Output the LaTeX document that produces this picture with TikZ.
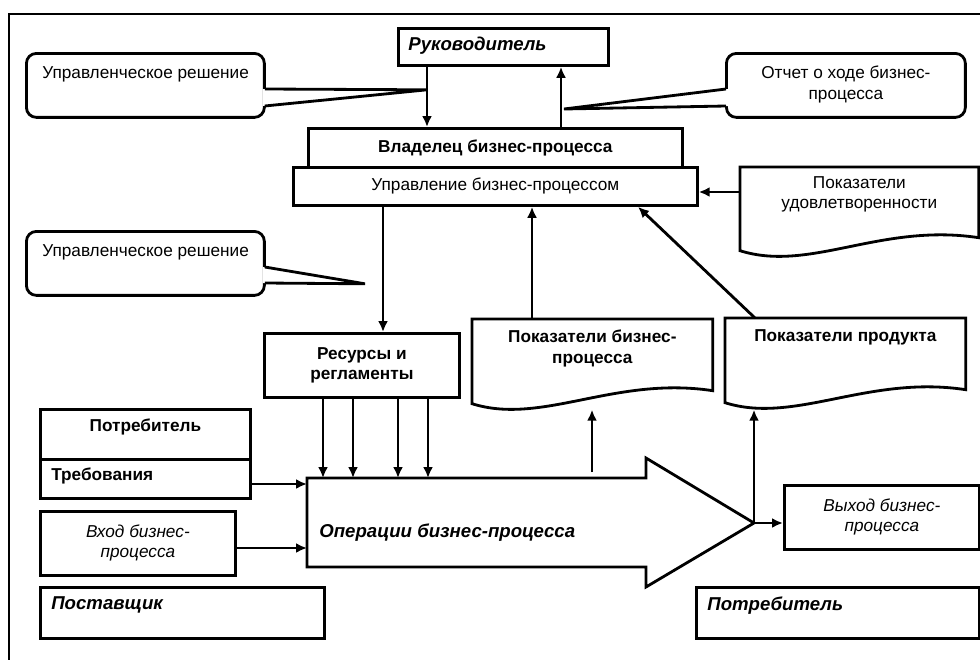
\documentclass[tikz,border=0pt]{standalone}
\usepackage{fontspec}
\setmainfont{Liberation Sans}
\usetikzlibrary{calc,positioning,arrows.meta}
\newcommand{\diagfont}{\fontsize{9.8}{11.4}\selectfont}
\newcommand{\titlefont}{\fontsize{10.6}{12}\selectfont\bfseries\itshape}

\begin{document}
\begin{tikzpicture}[x=0.02cm, y=-0.02cm,
		thickline/.style={line width=1.6pt},
		box/.style={thickline, draw, fill=white, inner sep=0pt, anchor=north west, align=center, font=\diagfont},
		bubble/.style={box, rounded corners=0.2cm},
		doc/.style={inner sep=0pt, anchor=north west},
		txt/.style={inner sep=0pt, align=center, font=\diagfont},
		arr/.style={thickline, -{Latex[length=2.2mm,width=2mm]}}
		]
	\useasboundingbox (0,0) rectangle (980,659);
	\clip (0,0) rectangle (980,659);
	\draw[thickline] (9,14) rectangle (1000,700);

	\node[box, minimum width=4.2cm, minimum height=0.74cm] (Boss) at (397,27) {};
	\node[txt, font=\titlefont, below right=0.19cm and 0.22cm of Boss.north west] (BossText) {Руководитель};
	\node[box, minimum width=7.48cm, minimum height=0.78cm, font=\diagfont\bfseries] (Owner) at (307,127) {Владелец бизнес-процесса};
	\node[box, minimum width=8.08cm, minimum height=0.76cm] (Mgmt) at (292,166) {Управление бизнес-процессом};

	\node[bubble, minimum width=4.76cm, minimum height=1.28cm] (DecA) at (25,52) {};
	\node[txt, below right=0.28cm and 0.34cm of DecA.north west] (DecAText) {Управленческое решение};
	\node[bubble, minimum width=4.78cm, minimum height=1.28cm] (Report) at (725,52) {};
	\node[txt, below=0.28cm of Report.north] (ReportText) {Отчет о ходе бизнес-\\процесса};
	\node[bubble, minimum width=4.76cm, minimum height=1.28cm] (DecB) at (25,230) {};
	\node[txt, below right=0.28cm and 0.34cm of DecB.north west] (DecBText) {Управленческое решение};

	\node[doc, minimum width=4.76cm, minimum height=1.66cm] (Sat) at (740,167) {};
	\draw[thickline] (Sat.south west) -- (Sat.north west) -- (Sat.north east) -- ($(Sat.south east)+(0,-13)$)
		.. controls +(-98,-15) and +(70,22) .. (Sat.south west) -- cycle;
	\node[txt, below=0.18cm of Sat.north] (SatText) {Показатели\\удовлетворенности};

	\node[box, minimum width=3.9cm, minimum height=1.28cm, font=\diagfont\bfseries] (Res) at (263,332) {Ресурсы и\\регламенты};

	\node[doc, minimum width=4.8cm, minimum height=1.68cm] (Kpi) at (472,319) {};
	\draw[thickline] (Kpi.south west) -- (Kpi.north west) -- (Kpi.north east) -- ($(Kpi.south east)+(0,-13)$)
		.. controls +(-98,-15) and +(70,22) .. (Kpi.south west) -- cycle;
	\node[txt, font=\diagfont\bfseries, below=0.22cm of Kpi.north] (KpiText) {Показатели бизнес-\\процесса};

	\node[doc, minimum width=4.8cm, minimum height=1.68cm] (Prod) at (725,318) {};
	\draw[thickline] (Prod.south west) -- (Prod.north west) -- (Prod.north east) -- ($(Prod.south east)+(0,-13)$)
		.. controls +(-98,-15) and +(70,22) .. (Prod.south west) -- cycle;
	\node[txt, font=\diagfont\bfseries, below=0.22cm of Prod.north] (ProdText) {Показатели продукта};

	\node[box, minimum width=4.2cm, minimum height=1cm] (Client) at (39,408) {};
	\node[txt, font=\diagfont\bfseries, below=0.22cm of Client.north] (ClientText) {Потребитель};
	\node[box, minimum width=4.2cm, minimum height=0.78cm] (Req) at (39,458) {};
	\node[txt, font=\diagfont\bfseries, below right=0.2cm and 0.24cm of Req.north west] (ReqText) {Требования};
	\node[box, minimum width=3.9cm, minimum height=1.28cm, font=\diagfont\itshape] (Inp) at (39,510) {Вход бизнес-\\процесса};
	\node[box, minimum width=5.68cm, minimum height=1.02cm] (Supplier) at (39,586) {};
	\node[txt, font=\titlefont, below right=0.21cm and 0.24cm of Supplier.north west] (SupplierText) {Поставщик};

	\node[box, minimum width=3.9cm, minimum height=1.28cm, font=\diagfont\itshape] (Outp) at (783,484) {Выход бизнес-\\процесса};
	\node[box, minimum width=5.66cm, minimum height=1.02cm] (ClientR) at (695,586) {};
	\node[txt, font=\titlefont, below right=0.21cm and 0.24cm of ClientR.north west] (ClientRText) {Потребитель};

	\coordinate (OpsNW) at (307,478);
	\coordinate (OpsSW) at (307,567);
	\coordinate (Tip) at (754,523);
	\draw[thickline, line join=miter] (OpsNW) -- (646,478) -- (646,458) -- (Tip) -- (646,587) -- (646,567) -- (OpsSW) -- cycle;
	\node[txt, font=\titlefont, anchor=west] (Ops) at (319,533) {Операции бизнес-процесса};

	\coordinate (Down) at ($(Boss.south west)+(30,0)$);
	\coordinate (Up) at ($(Owner.north west)+(254,0)$);
	\coordinate (ToRes) at ($(Mgmt.south west)+(91,0)$);
	\coordinate (TipA) at ($(Down)+(0,23)$);
	\coordinate (TipR) at ($(Up)+(3,-18)$);
	\coordinate (TipB) at ($(ToRes)+(-18,77)$);

	\fill[white] ($(DecA.north east)+(-3,37)$) -- (TipA) -- ($(DecA.north east)+(-3,54)$) -- cycle;
	\draw[thickline] ($(DecA.north east)+(-1,37)$) -- (TipA) -- ($(DecA.north east)+(-1,54)$);
	\fill[white] ($(Report.north west)+(3,37)$) -- (TipR) -- ($(Report.north west)+(3,54)$) -- cycle;
	\draw[thickline] ($(Report.north west)+(1,37)$) -- (TipR) -- ($(Report.north west)+(1,54)$);
	\fill[white] ($(DecB.north east)+(-3,37)$) -- (TipB) -- ($(DecB.north east)+(-3,53)$) -- cycle;
	\draw[thickline] ($(DecB.north east)+(-1,37)$) -- (TipB) -- ($(DecB.north east)+(-1,53)$);

	\draw[arr] (Down) -- (Down |- Owner.north);
	\draw[arr] (Up) -- (Up |- Boss.south);
	\draw[arr] ($(Sat.north west)+(0,25)$) coordinate (s) -- (s -| Mgmt.east);
	\draw[arr] (ToRes) -- (ToRes |- Res.north);
	\draw[arr] ($(Kpi.north west)+(60,0)$) coordinate (k) -- (k |- Mgmt.south);
	\draw[arr] ($(Prod.north west)+(30,0)$) -- ($(Mgmt.south west)+(346,0)$);
	\foreach \dx in {60,90,135,165}
		\draw[arr] ($(Res.south west)+(\dx,0)$) coordinate (r) -- (r |- OpsNW);
	\draw[arr] ($(Req.north east)+(0,26)$) coordinate (q) -- (q -| OpsNW);
	\draw[arr] ($(Inp.north east)+(0,38)$) coordinate (v) -- (v -| OpsNW);
	\coordinate (KpiIn) at ($(OpsNW)+(285,-6)$);
	\draw[arr] (KpiIn) -- ($(KpiIn |- Kpi.south)+(0,6)$);
	\draw[arr] (Tip) -- (Tip -| Outp.west);
	\draw[arr] (Tip) -- ($(Tip |- Prod.south)+(0,7)$);
\end{tikzpicture}
\end{document}
